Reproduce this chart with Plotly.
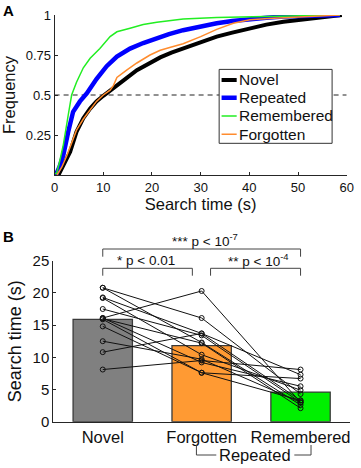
import plotly.graph_objects as go

# ---------------- Panel A data (cumulative distributions) ----------------
novel_t = [0.0, 0.8, 1.8, 3.2, 4.5, 5.9, 7.3, 8.6, 10.0, 12.1, 14.1, 16.9, 19.6, 21.7, 24.0,
           26.4, 30.0, 33.3, 36.5, 40.1, 43.5, 47.0, 50.5, 53.8, 56.5, 59.0]
novel_f = [0.0, 0.0, 0.06, 0.145, 0.27, 0.355, 0.415, 0.46, 0.495, 0.54, 0.59, 0.655, 0.70, 0.735,
           0.765, 0.79, 0.83, 0.865, 0.89, 0.917, 0.94, 0.958, 0.972, 0.983, 0.992, 1.0]

repeated_t = [0.0, 0.4, 1.0, 1.8, 2.8, 3.8, 5.2, 6.6, 8.6, 10.7, 12.8, 15.5, 18.2, 21.0, 23.5,
              26.4, 30.0, 33.3, 36.5, 40.1, 43.5, 47.0, 52.0, 56.0, 58.6]
repeated_f = [0.01, 0.01, 0.05, 0.125, 0.27, 0.395, 0.46, 0.51, 0.60, 0.68, 0.74, 0.79, 0.825,
              0.855, 0.88, 0.905, 0.93, 0.948, 0.962, 0.975, 0.983, 0.99, 0.994, 0.997, 1.0]

remembered_t = [0.0, 0.4, 1.0, 1.8, 2.8, 3.5, 4.5, 5.9, 7.3, 9.3, 11.4, 12.8, 15.5, 18.2, 21.0,
                26.4, 33.3, 40.1, 45.0, 50.0, 55.0, 58.6]
remembered_f = [0.01, 0.01, 0.08, 0.19, 0.375, 0.5, 0.58, 0.67, 0.73, 0.79, 0.865, 0.895, 0.917,
                0.94, 0.955, 0.975, 0.985, 0.99, 0.992, 0.995, 0.998, 1.0]

forgotten_t = [0.5, 1.5, 2.5, 3.5, 4.5, 5.9, 7.3, 8.6, 10.0, 11.4, 12.1, 12.8, 14.8, 16.9, 19.6,
               21.7, 24.0, 26.4, 30.0, 33.3, 36.7, 40.1, 44.0, 48.0, 53.0, 58.6]
forgotten_f = [0.0, 0.05, 0.12, 0.2, 0.28, 0.35, 0.41, 0.46, 0.50, 0.53, 0.56, 0.61, 0.655, 0.70,
               0.75, 0.78, 0.80, 0.82, 0.865, 0.91, 0.948, 0.97, 0.978, 0.985, 0.993, 1.0]

series_names = ["Novel", "Repeated", "Remembered", "Forgotten"]
x_ticks_a = [0, 10, 20, 30, 40, 50, 60]
y_ticks_a = [0.25, 0.5, 0.75, 1]
y_ticktext_a = ["0.25", "0.5", "0.75", "1"]

# ---------------- Panel B data ----------------
categories = ["Novel", "Forgotten", "Remembered"]
mean_times = [15.9, 11.8, 4.6]
subj_novel = [20.8, 20.8, 19.3, 19.2, 17.5, 16.1, 16.0, 16.1, 14.8, 12.5, 10.8, 8.1, 15.9]
subj_forgotten = [16.1, 12.3, 13.7, 10.4, 13.4, 20.3, 12.2, 9.2, 7.6, 9.7, 13.7, 9.5, 7.6]
subj_remembered = [4.3, 2.6, 3.3, 4.9, 3.0, 3.0, 2.1, 5.5, 6.7, 3.0, 7.3, 8.1, 3.3]
y_ticks_b = [0, 5, 10, 15, 20, 25]

FONT = "Liberation Sans, Arial, sans-serif"
H = 468.0

def py(p):
    return 1 - p / H

fig = go.Figure()

# dashed 0.5 line
fig.add_trace(go.Scatter(x=[0, 60], y=[0.5, 0.5], mode="lines",
                         line=dict(color="#222", width=1, dash="5px,4px"),
                         xaxis="x", yaxis="y", showlegend=False, hoverinfo="skip"))

styles = {
    "Novel": dict(color="#000000", width=4),
    "Repeated": dict(color="#0000FF", width=4.5),
    "Remembered": dict(color="#22EE22", width=1.5),
    "Forgotten": dict(color="#FF8C2E", width=1.5),
}
data_a = {
    "Novel": (novel_t, novel_f),
    "Repeated": (repeated_t, repeated_f),
    "Remembered": (remembered_t, remembered_f),
    "Forgotten": (forgotten_t, forgotten_f),
}
for name in series_names:
    t, f = data_a[name]
    fig.add_trace(go.Scatter(x=t, y=f, mode="lines", name=name, line=styles[name],
                             xaxis="x", yaxis="y", showlegend=False))

# ---- manual legend (inside panel A) ----
shapes = []
shapes.append(dict(type="rect", xref="x", yref="y", x0=33.8, x1=57.0, y0=0.198, y1=0.66,
                   fillcolor="white", line=dict(color="#333", width=1), layer="above"))
leg_y = [0.594, 0.483, 0.369, 0.254]
annotations = []
for name, yy in zip(series_names, leg_y):
    shapes.append(dict(type="line", xref="x", yref="y", x0=34.3, x1=37.4, y0=yy, y1=yy,
                       line=dict(color=styles[name]["color"], width=styles[name]["width"]),
                       layer="above"))
    annotations.append(dict(x=37.5, y=yy, xref="x", yref="y", text=name, showarrow=False,
                            xanchor="left", yanchor="middle",
                            font=dict(family=FONT, size=15.5, color="#111")))

# ---------------- Panel B ----------------
xpos = [i + 1 for i in range(len(categories))]
bar_colors = ["#808080", "#FF9A33", "#00F000"]
fig.add_trace(go.Bar(x=xpos, y=mean_times, width=0.6, marker=dict(color=bar_colors,
                     line=dict(color="#3a3a3a", width=1.3)),
                     xaxis="x2", yaxis="y2", showlegend=False))
for a, b, c in zip(subj_novel, subj_forgotten, subj_remembered):
    fig.add_trace(go.Scatter(x=xpos, y=[a, b, c], mode="lines+markers",
                             line=dict(color="#111", width=1),
                             marker=dict(symbol="circle-open", size=5,
                                         line=dict(color="#111", width=1)),
                             xaxis="x2", yaxis="y2", showlegend=False))

# significance brackets (x in category units, y in paper)
br_col = "#444"
def bracket(x0, x1, ytop, ybot):
    shapes.append(dict(type="path", xref="x2", yref="paper",
                       path=f"M {x0},{py(ybot)} L {x0},{py(ytop)} L {x1},{py(ytop)} L {x1},{py(ybot)}",
                       line=dict(color=br_col, width=1)))

bracket(1, 3, 249, 256.7)
bracket(1, 1.906, 268.3, 275.7)
bracket(2.09, 3, 268.3, 275.7)
# Repeated bracket below
shapes.append(dict(type="path", xref="x2", yref="paper",
                   path=f"M 1.947,{py(445)} L 1.947,{py(455)} L 2.148,{py(455)}",
                   line=dict(color=br_col, width=1)))
shapes.append(dict(type="path", xref="x2", yref="paper",
                   path=f"M 2.937,{py(455)} L 3.106,{py(455)} L 3.106,{py(445)}",
                   line=dict(color=br_col, width=1)))

pfont = dict(family=FONT, size=13.5, color="#111")
annotations += [
    dict(x=2.03, y=py(240), xref="x2", yref="paper", text="*** p < 10<sup>-7</sup>",
         showarrow=False, font=pfont, xanchor="center", yanchor="middle"),
    dict(x=1.44, y=py(260), xref="x2", yref="paper", text="* p < 0.01",
         showarrow=False, font=pfont, xanchor="center", yanchor="middle"),
    dict(x=2.57, y=py(260), xref="x2", yref="paper", text="** p < 10<sup>-4</sup>",
         showarrow=False, font=pfont, xanchor="center", yanchor="middle"),
    dict(x=2.54, y=py(455), xref="x2", yref="paper", text="Repeated",
         showarrow=False, font=dict(family=FONT, size=16.5, color="#111"),
         xanchor="center", yanchor="middle"),
    dict(x=8 / 361, y=py(10), xref="paper", yref="paper", text="<b>A</b>", showarrow=False,
         font=dict(family=FONT, size=15, color="#000"), xanchor="center", yanchor="middle"),
    dict(x=8 / 361, y=py(236), xref="paper", yref="paper", text="<b>B</b>", showarrow=False,
         font=dict(family=FONT, size=15, color="#000"), xanchor="center", yanchor="middle"),
]

axis_common = dict(showline=True, linecolor="#262626", linewidth=1, ticks="inside",
                   ticklen=3, tickcolor="#262626", showgrid=False, zeroline=False,
                   mirror=False, automargin=False)

fig.update_layout(
    width=361, height=468,
    margin=dict(l=0, r=0, t=0, b=0, autoexpand=False),
    paper_bgcolor="white", plot_bgcolor="white",
    font=dict(family=FONT, color="#111"),
    showlegend=False,
    xaxis=dict(domain=[54.6 / 361, 346.7 / 361], range=[0, 60], tickvals=x_ticks_a,
               tickfont=dict(size=13), anchor="y",
               title=dict(text="Search time (s)", font=dict(size=16.5), standoff=0),
               **axis_common),
    yaxis=dict(domain=[py(175), py(15)], range=[0, 1], tickvals=y_ticks_a,
               ticktext=y_ticktext_a, tickfont=dict(size=13), anchor="x",
               title=dict(text="Frequency", font=dict(size=16.5), standoff=8),
               **axis_common),
    xaxis2=dict(domain=[53.3 / 361, 350 / 361], range=[0.5, 3.5], tickvals=xpos,
                ticktext=categories, tickfont=dict(size=16.5), anchor="y2",
                showline=True, linecolor="#262626", linewidth=1, ticks="",
                showgrid=False, zeroline=False, automargin=False),
    yaxis2=dict(domain=[py(421.7), py(260.7)], range=[0, 25], tickvals=y_ticks_b,
                tickfont=dict(size=15), anchor="x2",
                title=dict(text="Search time (s)", font=dict(size=18), standoff=6),
                **axis_common),
    shapes=shapes,
    annotations=annotations,
    bargap=0.4,
)

fig.write_html("out.html", config={"displayModeBar": False},
               post_script="document.body.style.margin='0px';document.body.style.overflow='hidden';")
